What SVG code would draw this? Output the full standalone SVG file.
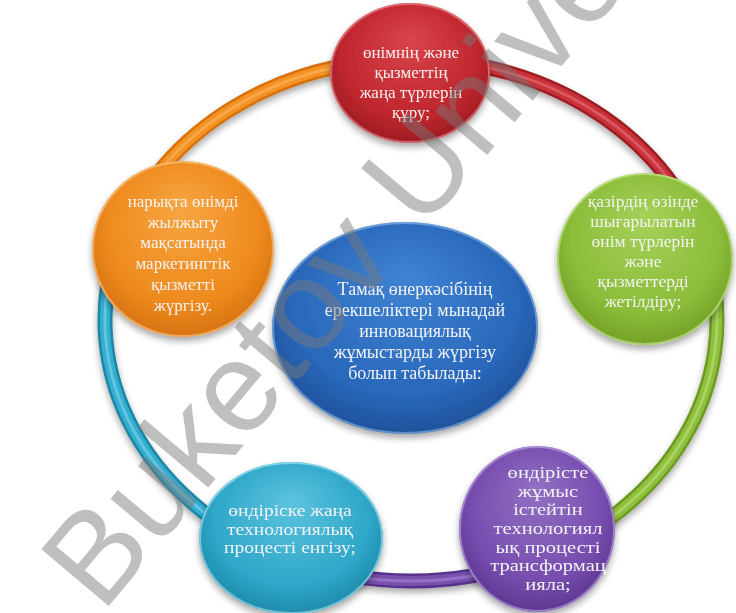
<svg xmlns="http://www.w3.org/2000/svg" width="736" height="613" viewBox="0 0 736 613">
<defs>
  <filter id="sh" x="-20%" y="-20%" width="140%" height="150%">
    <feGaussianBlur in="SourceAlpha" stdDeviation="3.5" result="blur"/>
    <feOffset in="blur" dy="4" result="off"/>
    <feComponentTransfer in="off" result="shadow"><feFuncA type="linear" slope="0.35"/></feComponentTransfer>
    <feMerge><feMergeNode in="shadow"/><feMergeNode in="SourceGraphic"/></feMerge>
  </filter>
  <radialGradient id="gRed" cx="50%" cy="45%" r="60%" fx="50%" fy="25%">
    <stop offset="0" stop-color="#d9454b"/><stop offset="0.7" stop-color="#c0272e"/><stop offset="1" stop-color="#941920"/>
  </radialGradient>
  <radialGradient id="gGreen" cx="50%" cy="45%" r="60%" fx="50%" fy="25%">
    <stop offset="0" stop-color="#a6d15a"/><stop offset="0.7" stop-color="#8cbd3a"/><stop offset="1" stop-color="#6c9a22"/>
  </radialGradient>
  <radialGradient id="gPurple" cx="50%" cy="45%" r="60%" fx="50%" fy="25%">
    <stop offset="0" stop-color="#9270c4"/><stop offset="0.7" stop-color="#774daf"/><stop offset="1" stop-color="#57328a"/>
  </radialGradient>
  <radialGradient id="gCyan" cx="50%" cy="45%" r="60%" fx="50%" fy="25%">
    <stop offset="0" stop-color="#5cc3df"/><stop offset="0.7" stop-color="#2fa7c9"/><stop offset="1" stop-color="#1a83a2"/>
  </radialGradient>
  <radialGradient id="gOrange" cx="50%" cy="45%" r="60%" fx="50%" fy="25%">
    <stop offset="0" stop-color="#f7a640"/><stop offset="0.7" stop-color="#ee8a1e"/><stop offset="1" stop-color="#d16d0c"/>
  </radialGradient>
  <radialGradient id="gBlue" cx="50%" cy="45%" r="60%" fx="50%" fy="25%">
    <stop offset="0" stop-color="#3f83d3"/><stop offset="0.7" stop-color="#2a68bb"/><stop offset="1" stop-color="#1b4c92"/>
  </radialGradient>
</defs>
<style>
  .lbl { font-family: "Liberation Serif", "DejaVu Serif", serif; font-size: 17px; fill: #f3f3f3; text-anchor: middle; }
  .t1 { fill: none; stroke-width: 15; }
  .t2 { fill: none; stroke-width: 10; }
  .t3 { fill: none; stroke-width: 3; stroke-opacity: 0.45; }
  .rim { fill: none; stroke-width: 2; stroke-opacity: 0.55; }
  .wm { font-family: "Liberation Sans", Arial, sans-serif; font-size: 128px; fill: #7a7a7a; fill-opacity: 0.48; }
</style>
<rect width="736" height="613" fill="#ffffff"/>

<g id="connectors" filter="url(#sh)">
  <g id="arc-red">
    <path class="t1" stroke="#9c1c23" d="M 411 59 A 306 261 0 0 1 710.3 265.7"/>
    <path class="t2" stroke="#c93039" d="M 411 59 A 306 261 0 0 1 710.3 265.7"/>
    <path class="t3" stroke="#f08a8f" d="M 411 59 A 306 261 0 0 1 710.3 265.7"/>
  </g>
  <g id="arc-green">
    <path class="t1" stroke="#6e9a24" d="M 710.3 265.7 A 306 261 0 0 1 535.5 558.4"/>
    <path class="t2" stroke="#8fc03d" d="M 710.3 265.7 A 306 261 0 0 1 535.5 558.4"/>
    <path class="t3" stroke="#c8e890" d="M 710.3 265.7 A 306 261 0 0 1 535.5 558.4"/>
  </g>
  <g id="arc-purple">
    <path class="t1" stroke="#56338a" d="M 535.5 558.4 A 306 261 0 0 1 291.4 560.3"/>
    <path class="t2" stroke="#7a4fb0" d="M 535.5 558.4 A 306 261 0 0 1 291.4 560.3"/>
    <path class="t3" stroke="#b49ae0" d="M 535.5 558.4 A 306 261 0 0 1 291.4 560.3"/>
  </g>
  <g id="arc-cyan">
    <path class="t1" stroke="#1b86a4" d="M 291.4 560.3 A 306 261 0 0 1 116.8 248.1"/>
    <path class="t2" stroke="#33aed0" d="M 291.4 560.3 A 306 261 0 0 1 116.8 248.1"/>
    <path class="t3" stroke="#9fe0f2" d="M 291.4 560.3 A 306 261 0 0 1 116.8 248.1"/>
  </g>
  <g id="arc-orange">
    <path class="t1" stroke="#d8700a" d="M 116.8 248.1 A 306 261 0 0 1 411 59"/>
    <path class="t2" stroke="#f39323" d="M 116.8 248.1 A 306 261 0 0 1 411 59"/>
    <path class="t3" stroke="#fcc27a" d="M 116.8 248.1 A 306 261 0 0 1 411 59"/>
  </g>
</g>

<g id="node-top" filter="url(#sh)">
  <ellipse cx="410" cy="73" rx="80" ry="70" fill="url(#gRed)"/>
  <ellipse class="rim" cx="410" cy="73" rx="79" ry="69" stroke="#f3a0a4"/>
  <text class="lbl"><tspan x="411" y="58">өнімнің және</tspan><tspan x="411" y="78">қызметтің</tspan><tspan x="411" y="98">жаңа түрлерін</tspan><tspan x="411" y="118">құру;</tspan></text>
</g>

<g id="node-right" filter="url(#sh)">
  <ellipse cx="645" cy="259" rx="88" ry="86" fill="url(#gGreen)"/>
  <ellipse class="rim" cx="645" cy="259" rx="87" ry="85" stroke="#d6f0a8"/>
  <text class="lbl" style="font-size:17.5px"><tspan x="643" y="207">қазірдің өзінде</tspan><tspan x="643" y="227">шығарылатын</tspan><tspan x="643" y="247">өнім түрлерін</tspan><tspan x="643" y="267">және</tspan><tspan x="643" y="287">қызметтерді</tspan><tspan x="643" y="307">жетілдіру;</tspan></text>
</g>

<g id="node-bottom-right" filter="url(#sh)">
  <ellipse cx="537" cy="529" rx="78" ry="83" fill="url(#gPurple)"/>
  <ellipse class="rim" cx="537" cy="529" rx="77" ry="82" stroke="#c9b4ea"/>
  <text class="lbl" style="font-size:16.6px" transform="translate(548 0) scale(1.24 1) translate(-548 0)"><tspan x="548" y="478">өндірісте</tspan><tspan x="548" y="497">жұмыс</tspan><tspan x="548" y="515">істейтін</tspan><tspan x="548" y="534">технологиял</tspan><tspan x="548" y="553">ық процесті</tspan><tspan x="548" y="571">трансформац</tspan><tspan x="548" y="590">ияла;</tspan></text>
</g>

<g id="node-bottom-left" filter="url(#sh)">
  <ellipse cx="291" cy="538" rx="92" ry="76" fill="url(#gCyan)"/>
  <ellipse class="rim" cx="291" cy="538" rx="91" ry="75" stroke="#b4ecf8"/>
  <text class="lbl" style="font-size:16.3px" transform="translate(290 0) scale(1.2 1) translate(-290 0)"><tspan x="290" y="516.5">өндіріске жаңа</tspan><tspan x="290" y="535">технологиялық</tspan><tspan x="290" y="553.5">процесті енгізу;</tspan></text>
</g>

<g id="node-center" filter="url(#sh)">
  <ellipse cx="405" cy="328" rx="133" ry="106" fill="url(#gBlue)"/>
  <ellipse class="rim" cx="405" cy="328" rx="132" ry="105" stroke="#9cc4f0"/>
  <text class="lbl" style="font-size:18px"><tspan x="415" y="295">Тамақ өнеркәсібінің</tspan><tspan x="415" y="316">ерекшеліктері мынадай</tspan><tspan x="415" y="337">инновациялық</tspan><tspan x="415" y="358">жұмыстарды жүргізу</tspan><tspan x="415" y="379">болып табылады:</tspan></text>
</g>

<g id="node-left" filter="url(#sh)">
  <ellipse cx="183" cy="249" rx="91" ry="88" fill="url(#gOrange)"/>
  <ellipse class="rim" cx="183" cy="249" rx="90" ry="87" stroke="#fcd29c"/>
  <text class="lbl"><tspan x="183" y="207">нарықта өнімді</tspan><tspan x="183" y="228">жылжыту</tspan><tspan x="183" y="248">мақсатында</tspan><tspan x="183" y="269">маркетингтік</tspan><tspan x="183" y="290">қызметті</tspan><tspan x="183" y="311">жүргізу.</tspan></text>
</g>

<text class="wm" transform="translate(102 614) rotate(-50)">Buketov Unive</text>
</svg>
